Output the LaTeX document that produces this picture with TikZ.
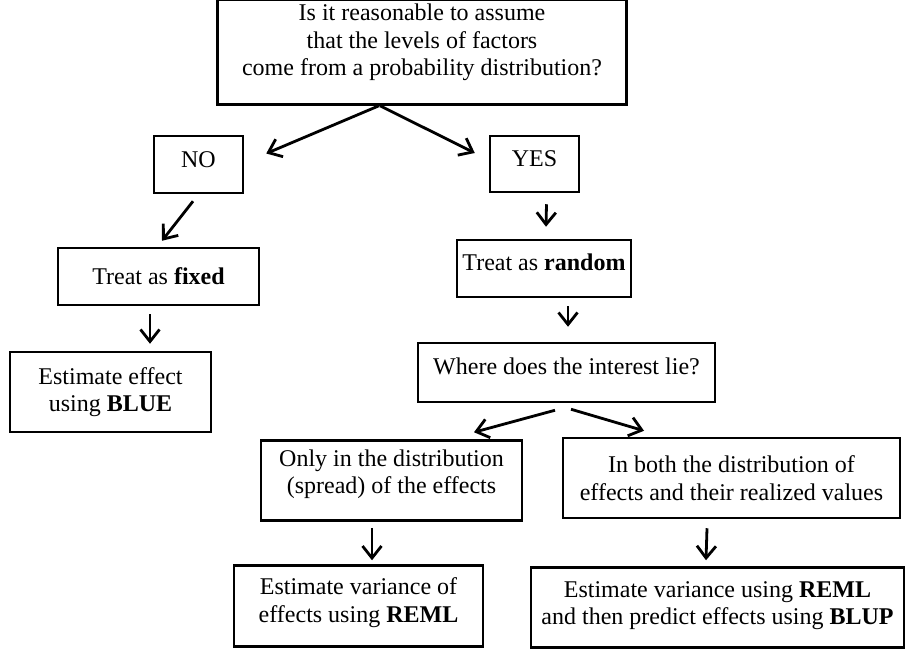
\documentclass[tikz,border=0pt]{standalone}
\usepackage{fontspec}
\setmainfont{Liberation Serif}
\usetikzlibrary{arrows.meta}
\newcommand{\up}[2]{\raisebox{#1}[\height][\depth]{\begin{tabular}{@{}c@{}}#2\end{tabular}}}
\begin{document}
\begin{tikzpicture}
    [x=1pt, y=-1pt,
    box/.style={draw, line width=2.5pt, align=center, inner sep=0pt,
      font=\fontsize{24}{27.5}\selectfont},
    arr/.style={line width=2.8pt, -{Straight Barb[length=12pt,width=19pt]}}]
    \useasboundingbox (0,0) rectangle (907,650);
    \node[box, minimum width=409pt, minimum height=105pt] (ask) at (422,52)
      {\up{9pt}{Is it reasonable to assume\\that the levels of factors\\come from a probability distribution?}};
    \node[box, minimum width=89pt, minimum height=57pt] (no) at (198.5,164.5) {\up{3pt}{NO}};
    \node[box, minimum width=89pt, minimum height=56pt] (yes) at (534.5,164) {\up{3pt}{YES}};
    \node[box, minimum width=201pt, minimum height=57pt] (fixed) at (158.5,276.5)
      {Treat as \textbf{fixed}};
    \node[box, minimum width=201pt, minimum height=80pt] (blue) at (110.5,392)
      {Estimate effect\\using \textbf{BLUE}};
    \node[box, minimum width=174pt, minimum height=57pt] (random) at (544,268.5)
      {\up{4pt}{Treat as \textbf{random}}};
    \node[box, minimum width=297pt, minimum height=59pt] (where) at (566.5,372.5)
      {\up{4pt}{Where does the interest lie?}};
    \node[box, minimum width=261pt, minimum height=80pt] (only) at (391.5,480.5)
      {\up{6pt}{Only in the distribution\\(spread) of the effects}};
    \node[box, minimum width=337pt, minimum height=80pt] (both) at (731.5,478)
      {In both the distribution of\\effects and their realized values};
    \node[box, minimum width=249pt, minimum height=81pt] (reml) at (358.5,606)
      {\up{3pt}{Estimate variance of\\effects using \textbf{REML}}};
    \node[box, minimum width=373pt, minimum height=80pt] (blup) at (717.5,607.5)
      {\up{2pt}{Estimate variance using \textbf{REML}\\and then predict effects using \textbf{BLUP}}};
    \draw[arr] ([xshift=-43pt]ask.south) -- ([xshift=22pt,yshift=11pt]no.east);
    \draw[arr] ([xshift=-42pt]ask.south) -- ([xshift=-14pt,yshift=11pt]yes.west);
    \draw[arr] ([xshift=-5.5pt,yshift=-7pt]no.south) -- ([xshift=3.5pt,yshift=6pt]fixed.north);
    \draw[arr] ([xshift=-8.5pt,yshift=-8pt]fixed.south) -- ([xshift=39.5pt,yshift=7pt]blue.north);
    \draw[arr] ([xshift=12pt,yshift=-11pt]yes.south) -- ([xshift=2pt,yshift=12pt]random.north);
    \draw[arr] ([xshift=24pt,yshift=-8pt]random.south) -- ([xshift=1.5pt,yshift=15pt]where.north);
    \draw[arr] ([xshift=-11.5pt,yshift=-7pt]where.south) -- ([xshift=82.5pt,yshift=7pt]only.north);
    \draw[arr] ([xshift=4.5pt,yshift=-6pt]where.south) -- ([xshift=-87.5pt,yshift=6pt]both.north);
    \draw[arr] ([xshift=-19.5pt,yshift=-6pt]only.south) -- ([xshift=13.5pt,yshift=4pt]reml.north);
    \draw[arr] ([xshift=-24.5pt,yshift=-9pt]both.south) -- ([xshift=-11.5pt,yshift=6pt]blup.north);
\end{tikzpicture}
\end{document}
